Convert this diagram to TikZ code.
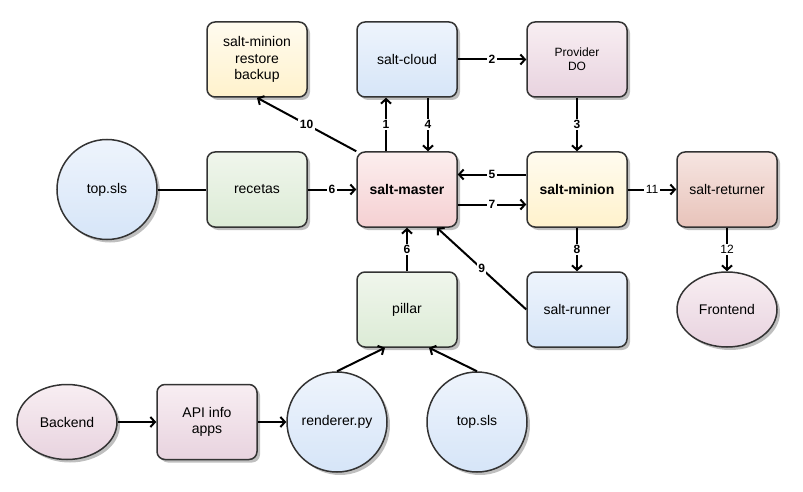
\documentclass[tikz,border=0pt]{standalone}
\usepackage{fontspec}
\setsansfont{Liberation Sans}
\usetikzlibrary{arrows.meta,shadows,shapes.geometric,positioning}
\tikzstyle{every picture}+=[font=\sffamily]

\definecolor{ylwtop}{HTML}{FFFBEF}
\definecolor{ylwbot}{HTML}{FFF2CC}
\definecolor{bluetop}{HTML}{EEF4FC}
\definecolor{bluebot}{HTML}{D6E5F8}
\definecolor{pinktop}{HTML}{F8EEF2}
\definecolor{pinkbot}{HTML}{E8D3DF}
\definecolor{greentop}{HTML}{F0F6EC}
\definecolor{greenbot}{HTML}{DCEBD6}
\definecolor{redtop}{HTML}{FCEEEE}
\definecolor{redbot}{HTML}{F5D0D2}
\definecolor{rusttop}{HTML}{F6E5E1}
\definecolor{rustbot}{HTML}{E8C3BA}

\begin{document}
\begin{tikzpicture}
	[x=1pt, y=-1pt, inner sep=0pt, font=\sffamily\fontsize{14}{16.5}\selectfont,
	box/.style		= {rectangle, rounded corners=8pt, draw=black!80, line width=1.5pt, minimum width=100pt, minimum height=75pt, align=center, drop shadow={shadow xshift=3pt, shadow yshift=-3pt}},
	disc/.style		= {circle, draw=black!80, line width=1.5pt, minimum size=100pt, drop shadow={shadow xshift=3pt, shadow yshift=-3pt}},
	oval/.style		= {ellipse, draw=black!80, line width=1.5pt, minimum width=100pt, minimum height=75pt, drop shadow={shadow xshift=3pt, shadow yshift=-3pt}},
	yellowfill/.style	= {top color=ylwtop, bottom color=ylwbot},
	bluefill/.style	= {top color=bluetop, bottom color=bluebot},
	pinkfill/.style	= {top color=pinktop, bottom color=pinkbot},
	greenfill/.style	= {top color=greentop, bottom color=greenbot},
	redfill/.style	= {top color=redtop, bottom color=redbot},
	rustfill/.style	= {top color=rusttop, bottom color=rustbot},
	paths/.style	= {-{Straight Barb[length=4.5pt, width=10pt]}, line width=2pt},
	link/.style		= {line width=2pt},
	num/.style		= {fill=white, inner sep=1.5pt, font=\sffamily\bfseries\fontsize{12}{12}\selectfont},
	numlight/.style	= {fill=white, inner sep=1.5pt, font=\sffamily\fontsize{12}{12}\selectfont}]

	\useasboundingbox (0,0) rectangle (803,492);

	\node at (257, 59.5)	[box, yellowfill]	(restore)	{salt-minion\\restore\\backup};
	\node at (407, 59.5)	[box, bluefill]		(cloud)		{salt-cloud};
	\node at (577, 59.5)	[box, pinkfill, font=\sffamily\fontsize{12}{14}\selectfont]	(provider)	{Provider\\DO};

	\node at (107, 189.5)	[disc, bluefill]	(topleft)	{top.sls};
	\node at (257, 189.5)	[box, greenfill]	(recetas)	{recetas};
	\node at (407, 189.5)	[box, redfill, font=\sffamily\bfseries\fontsize{14}{16.5}\selectfont]	(master)	{salt-master};
	\node at (577, 189.5)	[box, yellowfill, font=\sffamily\bfseries\fontsize{14}{16.5}\selectfont]	(minion)	{salt-minion};
	\node at (727, 189.5)	[box, rustfill]		(returner)	{salt-returner};

	\node at (407, 309.5)	[box, greenfill]	(pillar)	{pillar};
	\node at (577, 309.5)	[box, bluefill]		(runner)	{salt-runner};
	\node at (727, 309.5)	[oval, pinkfill]	(frontend)	{Frontend};

	\node at (67, 422)		[oval, pinkfill]	(backend)	{Backend};
	\node at (207, 422)		[box, pinkfill]		(api)		{API info\\apps};
	\node at (337, 422)		[disc, bluefill]	(renderer)	{renderer.py};
	\node at (477, 422)		[disc, bluefill]	(topbottom)	{top.sls};

	\draw [paths] (master.north west) -- (restore.south) node[num, midway] {10};
	\draw [paths] ([xshift=-21pt]master.north) -- ([xshift=-21pt]cloud.south) node[num, midway] {1};
	\draw [paths] ([xshift=21pt]cloud.south) -- ([xshift=21pt]master.north) node[num, midway] {4};
	\draw [paths] (cloud.east) -- (provider.west) node[num, midway] {2};
	\draw [paths] (provider.south) -- (minion.north) node[num, midway] {3};
	\draw [paths] ([yshift=15pt]minion.west) -- ([yshift=15pt]master.east) node[num, midway] {5};
	\draw [paths] ([yshift=-15pt]master.east) -- ([yshift=-15pt]minion.west) node[num, midway] {7};
	\draw [paths] (recetas.east) -- (master.west) node[num, midway] {6};
	\draw [link] (topleft.east) -- (recetas.west);
	\draw [paths] (minion.east) -- (returner.west) node[numlight, midway] {11};
	\draw [paths] (returner.south) -- (frontend.north) node[numlight, midway] {12};
	\draw [paths] (minion.south) -- (runner.north) node[num, midway] {8};
	\draw [paths] (runner.west) -- ([xshift=30pt]master.south) node[num, midway] {9};
	\draw [paths] (pillar.north) -- (master.south) node[num, midway] {6};

	\draw [paths] (renderer.north) -- ([xshift=-22pt]pillar.south);
	\draw [paths] (topbottom.north) -- ([xshift=22pt]pillar.south);
	\draw [paths] (backend.east) -- (api.west);
	\draw [paths] (api.east) -- (renderer.west);
\end{tikzpicture}
\end{document}
